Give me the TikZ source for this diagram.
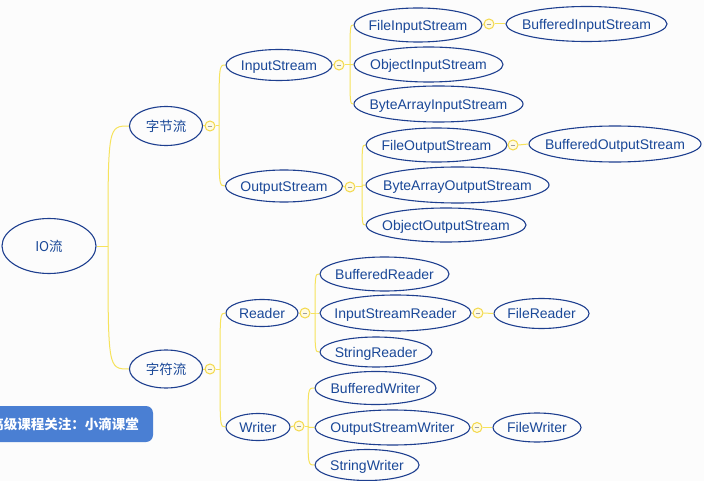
\documentclass[tikz,border=0pt]{standalone}
\usepackage{fontspec}
\setmainfont{Liberation Sans}
\newfontfamily\cjk{Noto Sans CJK SC}
\usetikzlibrary{shapes.geometric,calc}
\definecolor{bgc}{HTML}{FCFCFC}
\definecolor{ellborder}{HTML}{1E3F8F}
\definecolor{txtblue}{HTML}{1A4898}
\definecolor{ylw}{HTML}{F6E35C}
\definecolor{collb}{HTML}{F3D84A}
\definecolor{collf}{HTML}{FFFBE3}
\definecolor{banner}{HTML}{4A7FD3}
\newcommand\mmto[2]{\draw[yl] (#1) .. controls (#1 |- #2.west) .. (#2.west);}
\newcommand\zt[1]{\makebox[0pt]{\raisebox{-0.36em}[0pt][0pt]{#1}}}
\begin{document}
\begin{tikzpicture}[x=1pt,y=-1pt,
  ell/.style={ellipse, draw=ellborder, line width=1.1pt, inner sep=0pt, text=txtblue,
    font=\fontsize{14}{16}\selectfont},
  yl/.style={draw=ylw, line width=1pt},
  coll/.style={circle, draw=collb, fill=collf, line width=1pt, minimum size=10pt, inner sep=0pt,
    path picture={\draw[gray!75, line width=0.7pt]
      ($(path picture bounding box.center)+(-2.3,0)$) -- ($(path picture bounding box.center)+(2.3,0)$);}}
]
\fill[bgc] (0,0) rectangle (704,481);
\useasboundingbox (0,0) rectangle (704,481);

% nodes
\node[ell, minimum width=94pt, minimum height=55pt] (io) at (49,246) {\zt{\cjk\fontsize{13.5}{16}\selectfont IO流}};
\node[ell, minimum width=73pt, minimum height=39pt] (zj) at (166,126) {\zt{\cjk\fontsize{13.5}{16}\selectfont 字节流}};
\node[ell, minimum width=73pt, minimum height=38pt] (zf) at (166,369) {\zt{\cjk\fontsize{13.5}{16}\selectfont 字符流}};

\node[ell, minimum width=106pt, minimum height=31pt] (is) at (279,65) {\zt{InputStream}};
\node[ell, minimum width=117pt, minimum height=32pt] (os) at (284,186) {\zt{OutputStream}};
\node[ell, minimum width=72pt, minimum height=27pt] (rd) at (262,313) {\zt{Reader}};
\node[ell, minimum width=64pt, minimum height=27pt] (wr) at (258,427) {\zt{Writer}};

\node[ell, minimum width=128pt, minimum height=34pt] (fis) at (418,25) {\zt{FileInputStream}};
\node[ell, minimum width=161pt, minimum height=35pt] (bis) at (586.5,24) {\zt{BufferedInputStream}};
\node[ell, minimum width=149pt, minimum height=35pt] (ois) at (428.5,64.5) {\zt{ObjectInputStream}};
\node[ell, minimum width=169pt, minimum height=36pt] (bais) at (438.5,104) {\zt{ByteArrayInputStream}};

\node[ell, minimum width=141pt, minimum height=34pt] (fos) at (436.5,145) {\zt{FileOutputStream}};
\node[ell, minimum width=172pt, minimum height=36pt] (bos) at (615,144) {\zt{BufferedOutputStream}};
\node[ell, minimum width=183pt, minimum height=36pt] (baos) at (457.5,185) {\zt{ByteArrayOutputStream}};
\node[ell, minimum width=160pt, minimum height=34pt] (oos) at (446,225) {\zt{ObjectOutputStream}};

\node[ell, minimum width=129pt, minimum height=34pt] (br) at (384.5,274) {\zt{BufferedReader}};
\node[ell, minimum width=151pt, minimum height=36pt] (isr) at (395.5,313) {\zt{InputStreamReader}};
\node[ell, minimum width=95pt, minimum height=30pt] (fr) at (541.5,313.5) {\zt{FileReader}};
\node[ell, minimum width=112pt, minimum height=30pt] (sr) at (376,352) {\zt{StringReader}};

\node[ell, minimum width=121pt, minimum height=33pt] (bw) at (375.5,388) {\zt{BufferedWriter}};
\node[ell, minimum width=155pt, minimum height=35pt] (osw) at (392.5,427.5) {\zt{OutputStreamWriter}};
\node[ell, minimum width=88pt, minimum height=29pt] (fw) at (537,427.5) {\zt{FileWriter}};
\node[ell, minimum width=104pt, minimum height=31pt] (sw) at (367,465) {\zt{StringWriter}};

% collapse markers
\node[coll] (czj) at (210,126) {};
\node[coll] (czf) at (210,369) {};
\node[coll] (cis) at (339,65) {};
\node[coll] (cos) at (350,187) {};
\node[coll] (crd) at (305,313) {};
\node[coll] (cwr) at (299,426) {};
\node[coll] (cfis) at (489,24) {};
\node[coll] (cfos) at (513,145) {};
\node[coll] (cisr) at (478,313) {};
\node[coll] (cosw) at (477,427.5) {};

% trunk coordinates
\coordinate (tio) at (108,246);
\coordinate (tzj) at (219,126);
\coordinate (tzf) at (220,369);
\coordinate (tis) at (350,65);
\coordinate (tos) at (362,187);
\coordinate (trd) at (315,313);
\coordinate (twr) at (308,426);

% connectors
\draw[yl] (io.east) -- (tio);
\mmto{tio}{zj}
\mmto{tio}{zf}

\draw[yl] (zj.east) -- (czj.west);
\draw[yl] (czj.east) -- (tzj);
\mmto{tzj}{is}
\mmto{tzj}{os}

\draw[yl] (zf.east) -- (czf.west);
\draw[yl] (czf.east) -- (tzf);
\mmto{tzf}{rd}
\mmto{tzf}{wr}

\draw[yl] (is.east) -- (cis.west);
\draw[yl] (cis.east) -- (tis);
\mmto{tis}{fis}
\mmto{tis}{ois}
\mmto{tis}{bais}

\draw[yl] (os.east) -- (cos.west);
\draw[yl] (cos.east) -- (tos);
\mmto{tos}{fos}
\mmto{tos}{baos}
\mmto{tos}{oos}

\draw[yl] (rd.east) -- (crd.west);
\draw[yl] (crd.east) -- (trd);
\mmto{trd}{br}
\mmto{trd}{isr}
\mmto{trd}{sr}

\draw[yl] (wr.east) -- (cwr.west);
\draw[yl] (cwr.east) -- (twr);
\mmto{twr}{bw}
\mmto{twr}{osw}
\mmto{twr}{sw}

\draw[yl] (fis.east) -- (cfis.west);
\draw[yl] (cfis.east) -- (bis.west);
\draw[yl] (fos.east) -- (cfos.west);
\draw[yl] (cfos.east) -- (bos.west);
\draw[yl] (isr.east) -- (cisr.west);
\draw[yl] (cisr.east) -- (fr.west);
\draw[yl] (osw.east) -- (cosw.west);
\draw[yl] (cosw.east) -- (fw.west);

% banner
\fill[banner, rounded corners=7pt] (-12,406) rectangle (153,442);
\node[anchor=east, text=white, inner sep=0pt, font=\cjk\bfseries\fontsize{13.5}{16}\selectfont] (ban) at (139,424) {高级课程关注：小滴课堂};
\end{tikzpicture}
\end{document}
